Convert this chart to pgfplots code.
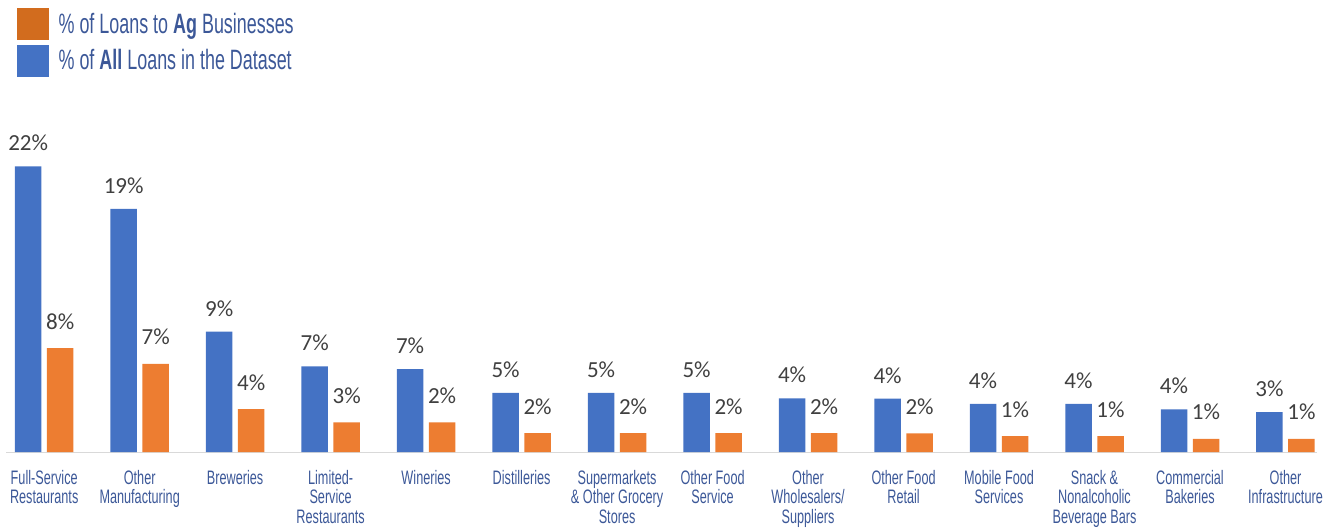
\documentclass[border=0pt]{standalone}
\usepackage{pgfplots}
\pgfplotsset{compat=1.18}
\usepackage{fontspec}
\setmainfont{Carlito}
\newfontfamily\legfont[FakeStretch=0.64]{Liberation Sans}
\newfontfamily\catfont[FakeStretch=0.65]{Liberation Sans}
\definecolor{barblue}{RGB}{68,114,196}
\definecolor{barorange}{RGB}{237,125,49}
\definecolor{legorange}{RGB}{210,108,30}
\definecolor{textblue}{RGB}{60,88,152}
\definecolor{labelgray}{RGB}{64,64,64}

\begin{document}
\begin{tikzpicture}
\path[use as bounding box] (0,0) rectangle (1337pt,527pt);
\begin{axis}[
  at={(6pt,75pt)}, anchor=south west,
  scale only axis, width=1311pt, height=300pt,
  xmin=-0.4, xmax=13.33, ymin=0, ymax=23.11,
  ybar, bar width=26.5pt,
  axis x line=bottom, axis y line=none,
  x axis line style={-, draw=black!15, line width=1pt},
  xtick={0,...,13},
  xticklabels={{Full-Service\\Restaurants},{Other\\Manufacturing},{Breweries},
    {Limited-\\Service\\Restaurants},{Wineries},{Distilleries},
    {Supermarkets\\\& Other Grocery\\Stores},{Other Food\\Service},
    {Other\\Wholesalers/\\Suppliers},{Other Food\\Retail},{Mobile Food\\Services},
    {Snack \&\\Nonalcoholic\\Beverage Bars},{Commercial\\Bakeries},{Other\\Infrastructure}},
  xtick style={draw=none},
  xticklabel style={font=\catfont\fontsize{19.5}{19.4}\selectfont, text=textblue,
    align=center, anchor=north, inner sep=0pt, yshift=-16pt},
  ytick=\empty,
  nodes near coords, point meta=explicit symbolic,
  every node near coord/.append style={font=\fontsize{23}{23}\selectfont,
    text=labelgray, anchor=base, inner sep=0pt},
  legend style={draw=none, fill=none, at={(axis description cs:0.0084,1.48)},
    anchor=north west, inner sep=0pt, row sep=5pt,
    font=\legfont\fontsize{28}{30}\selectfont, text=textblue},
  legend cell align=left,
  clip=false,
]
% % of all loans in the dataset
\addplot[fill=barblue, draw=none, bar shift=-16pt, forget plot,
  every node near coord/.append style={yshift=15.5pt}] coordinates {
  (0,22.00) [22\%] (1,18.72) [19\%] (2,9.27) [9\%] (3,6.59) [7\%]
  (4,6.39) [7\%] (5,4.55) [5\%] (6,4.55) [5\%] (7,4.55) [5\%]
  (8,4.13) [4\%] (9,4.11) [4\%] (10,3.70) [4\%] (11,3.70) [4\%]
  (12,3.29) [4\%] (13,3.08) [3\%]
};
% % of loans to ag businesses
\addplot[fill=barorange, draw=none, bar shift=16pt, forget plot,
  every node near coord/.append style={yshift=19pt}] coordinates {
  (0,8.01) [8\%] (1,6.78) [7\%] (2,3.31) [4\%] (3,2.28) [3\%]
  (4,2.28) [2\%] (5,1.46) [2\%] (6,1.46) [2\%] (7,1.46) [2\%]
  (8,1.46) [2\%] (9,1.44) [2\%] (10,1.23) [1\%] (11,1.23) [1\%]
  (12,1.02) [1\%] (13,1.02) [1\%]
};
\addlegendimage{legend image code/.code={\fill[legorange] (0pt,-15.5pt) rectangle (31pt,15.5pt);}}
\addlegendentry{\hspace{8pt}\% of Loans to \textbf{Ag} Businesses}
\addlegendimage{legend image code/.code={\fill[barblue] (0pt,-15.5pt) rectangle (31pt,15.5pt);}}
\addlegendentry{\hspace{8pt}\% of \textbf{All} Loans in the Dataset}
\end{axis}
\end{tikzpicture}
\end{document}
